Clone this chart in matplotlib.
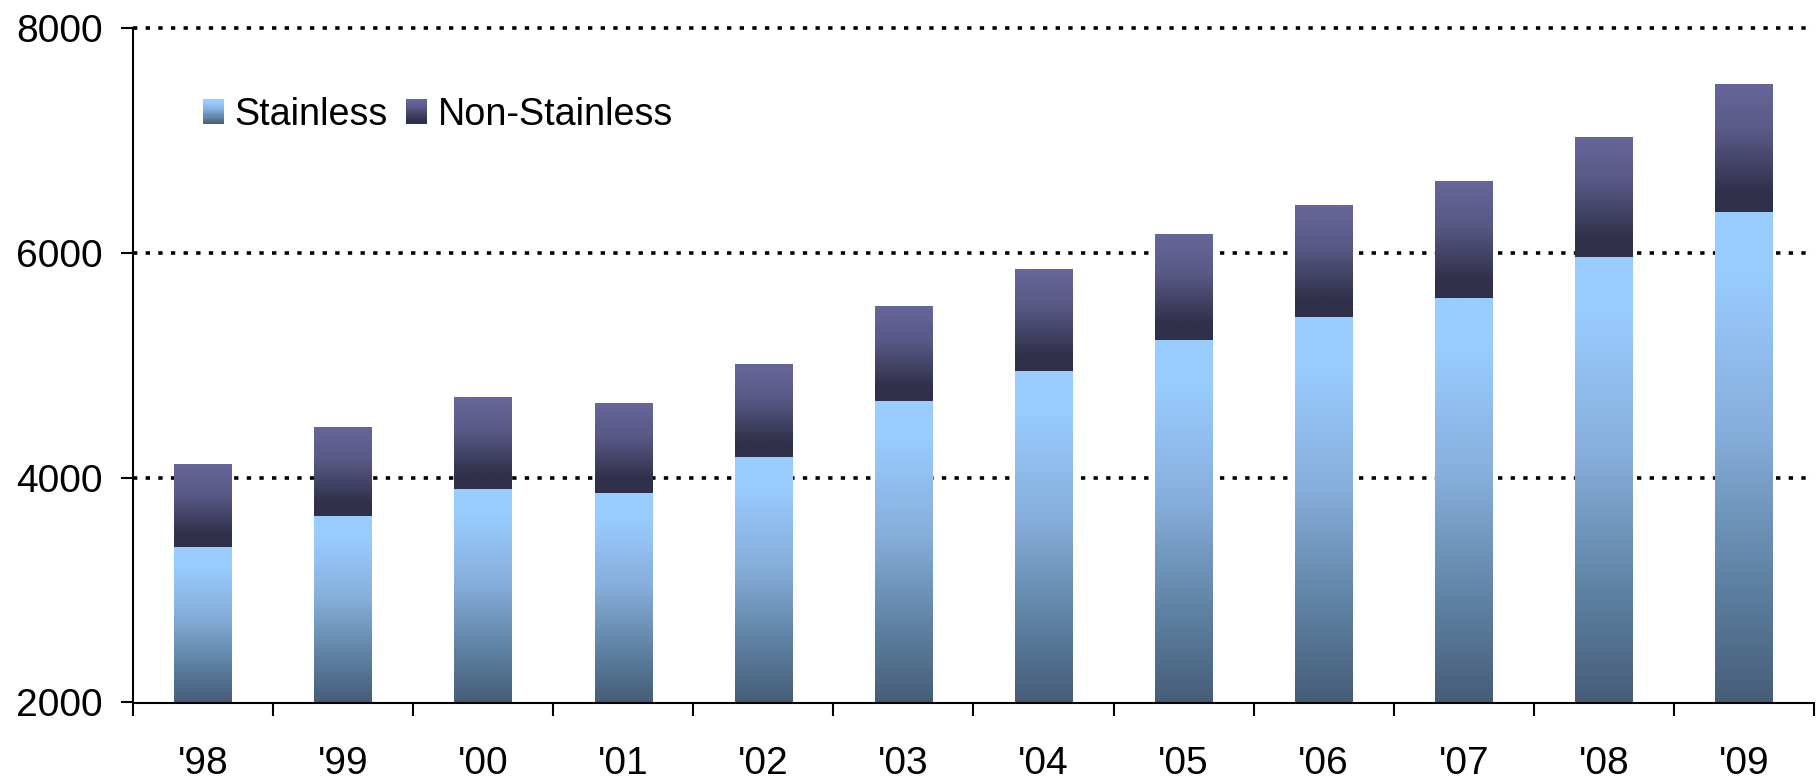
import numpy as np
import matplotlib
matplotlib.use("Agg")
import matplotlib.pyplot as plt
from matplotlib.colors import LinearSegmentedColormap
from matplotlib.legend_handler import HandlerBase
from matplotlib.patches import Rectangle

plt.rcParams["font.family"] = ["Liberation Sans", "DejaVu Sans"]

years = ["'98", "'99", "'00", "'01", "'02", "'03", "'04", "'05", "'06", "'07", "'08", "'09"]
stainless = [3385, 3655, 3895, 3860, 4185, 4680, 4945, 5225, 5430, 5600, 5965, 6365]
total = [4120, 4440, 4710, 4655, 5010, 5525, 5845, 6160, 6425, 6640, 7030, 7495]
non_stainless = [t - s for t, s in zip(total, stainless)]
y_ticks = [2000, 4000, 6000, 8000]

# top -> bottom colour stops for the gradient fills
stainless_cmap = LinearSegmentedColormap.from_list(
    "stainless",
    [(0.0, "#99CCFF"), (0.12, "#99CCFF"), (0.45, "#86AEDB"), (0.75, "#5F82A3"), (1.0, "#465D78")])
non_stainless_cmap = LinearSegmentedColormap.from_list(
    "non_stainless",
    [(0.0, "#666699"), (0.35, "#5A5A88"), (0.85, "#30304A"), (1.0, "#30304A")])


class GradientHandler(HandlerBase):
    def __init__(self, cmap, steps=24):
        super().__init__()
        self.cmap = cmap
        self.steps = steps

    def create_artists(self, legend, orig_handle, xdescent, ydescent,
                       width, height, fontsize, trans):
        arts = []
        for i in range(self.steps):
            y0 = -ydescent + height * (1 - (i + 1) / self.steps)
            arts.append(Rectangle((-xdescent, y0), width, height / self.steps + 0.3,
                                  facecolor=self.cmap((i + 0.5) / self.steps),
                                  edgecolor="none", transform=trans))
        return arts


def gradient_fill(ax, bars, cmap, ymin):
    grad = np.linspace(0, 1, 256).reshape(-1, 1)
    for b in bars:
        x0, y0 = b.get_x(), max(b.get_y(), ymin)
        x1, y1 = x0 + b.get_width(), b.get_y() + b.get_height()
        ax.imshow(grad, extent=[x0, x1, y0, y1], origin="upper", aspect="auto",
                  cmap=cmap, interpolation="bicubic", zorder=3)


fig = plt.figure(figsize=(18.18, 7.8), dpi=100)
ax = fig.add_axes([133 / 1818, 1 - 702.5 / 780, (1814 - 133) / 1818, (702.5 - 28) / 780])

x = np.arange(len(years))
width = 0.41
ymin = y_ticks[0]
b1 = ax.bar(x, stainless, width, color="none", zorder=3)
b2 = ax.bar(x, non_stainless, width, bottom=stainless, color="none", zorder=3)
gradient_fill(ax, b1, stainless_cmap, ymin)
gradient_fill(ax, b2, non_stainless_cmap, ymin)

ax.set_xlim(-0.5, len(years) - 0.5)
ax.set_ylim(y_ticks[0], y_ticks[-1])

for yv in y_ticks[1:]:
    ax.axhline(yv, color="black", lw=2.6, linestyle=(0, (1.2, 2.3)), zorder=1, clip_on=False)

for s in ["top", "right"]:
    ax.spines[s].set_visible(False)
for s in ["left", "bottom"]:
    ax.spines[s].set_linewidth(1.5)
    ax.spines[s].set_zorder(4)

ax.set_yticks(y_ticks)
ax.tick_params(axis="y", labelsize=28, length=8.6, width=1.5, pad=13)
ax.set_xticks(x)
ax.set_xticklabels(years)
ax.set_xticks(np.arange(len(years) + 1) - 0.5, minor=True)
ax.tick_params(axis="x", which="major", labelsize=28, length=0, pad=31)
ax.tick_params(axis="x", which="minor", length=9.4, width=1.5)

h1 = Rectangle((0, 0), 1, 1)
h2 = Rectangle((0, 0), 1, 1)
fig.legend([h1, h2], ["Stainless", "Non-Stainless"],
           handler_map={h1: GradientHandler(stainless_cmap), h2: GradientHandler(non_stainless_cmap)},
           loc="upper left", bbox_to_anchor=(203 / 1818, 1 - 97 / 780), ncol=2,
           frameon=False, fontsize=27.2, borderpad=0, borderaxespad=0,
           handlelength=0.55, handleheight=0.64, handletextpad=0.28, columnspacing=0.5)

fig.savefig("out.png", dpi=100)
